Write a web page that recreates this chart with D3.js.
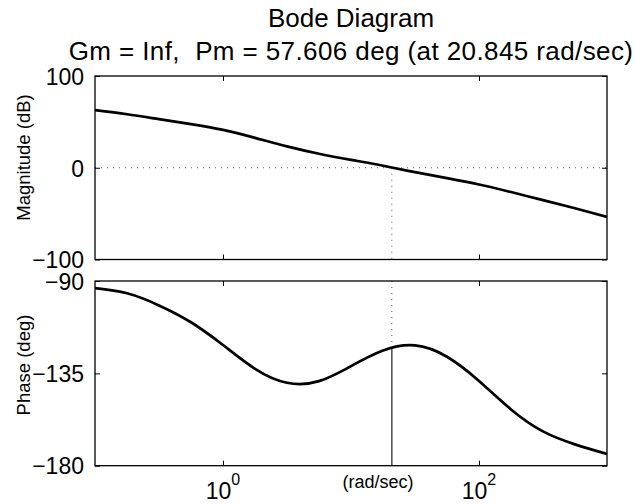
<!DOCTYPE html>
<html>
<head>
<meta charset="utf-8">
<script src="https://cdn.jsdelivr.net/npm/d3@7"></script>
<style>
  html, body { margin: 0; padding: 0; background: #fff; }
  svg { display: block; }
  text { font-family: "Liberation Sans", Arial, Helvetica, sans-serif; fill: #000; white-space: pre; }
</style>
</head>
<body>
<svg id="chart" width="635" height="504"></svg>
<script>
// ---- data ----
const titleLine1 = "Bode Diagram";
const titleLine2 = "Gm = Inf,  Pm = 57.606 deg (at 20.845 rad/sec)";
const xLabel = "(rad/sec)";
const magLabel = "Magnitude (dB)";
const phaseLabel = "Phase (deg)";

const freqDomain = [0.1, 1000];
const freqTicks = [1, 100];
const freqTickExp = ["0", "2"];

const magDomain = [-100, 100];
const magTicks = [-100, 0, 100];
const phaseDomain = [-180, -90];
const phaseTicks = [-180, -135, -90];

// frequencies (rad/sec) at which the curves were read, quarter-decade steps
const freqs = [0.1, 0.178, 0.316, 0.562, 1, 1.78, 3.16, 5.62, 10, 17.8, 31.6, 56.2, 100, 178, 316, 562, 1000];
const magDb = [62.8, 58.3, 53.0, 47.6, 41.3, 32.6, 23.3, 15.3, 8.6, 2.2, -4.8, -11.3, -18.3, -26.5, -35.3, -44.2, -53.6];
const phaseDeg = [-93.5, -96.0, -101.9, -110.1, -121.2, -132.8, -139.6, -138.8, -131.5, -123.9, -121.4, -126.9, -138.7, -152.6, -163.3, -169.6, -174.3];

const crossoverFreq = 20.845;
const crossoverPhase = -122.394;

// ---- layout ----
const svg = d3.select("#chart");
const left = 95, right = 607;
const magTop = 76, magBottom = 259.5;
const phTop = 281, phBottom = 465.7;
const tickLen = 5;
const tickFont = 23;

const x = d3.scaleLog().domain(freqDomain).range([left, right]);
const yMag = d3.scaleLinear().domain(magDomain).range([magBottom, magTop]);
const yPh = d3.scaleLinear().domain(phaseDomain).range([phBottom, phTop]);

function fmt(v) { return v < 0 ? "\u2212" + Math.abs(v) : String(v); }

function drawPanel(y, ticks, top, bottom, vals, id) {
  const g = svg.append("g");
  g.append("clipPath").attr("id", id).append("rect")
    .attr("x", left).attr("y", top).attr("width", right - left).attr("height", bottom - top);

  const line = d3.line().x(d => x(d[0])).y(d => y(d[1])).curve(d3.curveNatural);
  g.append("path").datum(freqs.map((f, i) => [f, vals[i]]))
    .attr("d", line).attr("fill", "none").attr("stroke", "#000")
    .attr("stroke-width", 2.7).attr("stroke-linejoin", "round").attr("clip-path", `url(#${id})`);

  g.append("rect").attr("x", left).attr("y", top).attr("width", right - left).attr("height", bottom - top)
    .attr("fill", "none").attr("stroke", "#000").attr("stroke-width", 1.3);

  const yAxL = d3.axisLeft(y).tickValues(ticks).tickSizeInner(-tickLen).tickSizeOuter(0).tickFormat(fmt).tickPadding(11);
  const gl = g.append("g").attr("transform", `translate(${left},0)`).call(yAxL);
  gl.select(".domain").remove();
  gl.selectAll(".tick line").attr("stroke", "#000").attr("stroke-width", 1);
  gl.selectAll(".tick text").attr("font-size", tickFont).attr("font-family", "Liberation Sans, Arial, sans-serif").attr("dy", "0.36em");

  const yAxR = d3.axisRight(y).tickValues(ticks).tickSizeInner(-tickLen).tickSizeOuter(0).tickFormat("");
  const gr = g.append("g").attr("transform", `translate(${right},0)`).call(yAxR);
  gr.select(".domain").remove();
  gr.selectAll(".tick line").attr("stroke", "#000");

  const xAxT = d3.axisTop(x).tickValues(freqTicks).tickSizeInner(-tickLen).tickSizeOuter(0).tickFormat("");
  const gt = g.append("g").attr("transform", `translate(0,${top})`).call(xAxT);
  gt.select(".domain").remove();
  gt.selectAll(".tick line").attr("stroke", "#000");
  const xAxB = d3.axisBottom(x).tickValues(freqTicks).tickSizeInner(-tickLen).tickSizeOuter(0).tickFormat("");
  const gb = g.append("g").attr("transform", `translate(0,${bottom})`).call(xAxB);
  gb.select(".domain").remove();
  gb.selectAll(".tick line").attr("stroke", "#000");
  return g;
}

const dotStyle = sel => sel.attr("stroke", "#555").attr("stroke-width", 1).attr("stroke-dasharray", "1,5");
svg.append("line").attr("x1", left).attr("x2", right).attr("y1", yMag(0)).attr("y2", yMag(0)).call(dotStyle);
svg.append("line").attr("x1", x(crossoverFreq)).attr("x2", x(crossoverFreq))
  .attr("y1", yMag(0)).attr("y2", magBottom).call(dotStyle);

svg.append("line").attr("x1", x(crossoverFreq)).attr("x2", x(crossoverFreq))
  .attr("y1", phTop).attr("y2", yPh(crossoverPhase)).call(dotStyle);
svg.append("line").attr("x1", x(crossoverFreq)).attr("x2", x(crossoverFreq))
  .attr("y1", yPh(crossoverPhase)).attr("y2", phBottom)
  .attr("stroke", "#555").attr("stroke-width", 1.6);

drawPanel(yMag, magTicks, magTop, magBottom, magDb, "clipMag");
drawPanel(yPh, phaseTicks, phTop, phBottom, phaseDeg, "clipPh");

freqTicks.forEach((f, i) => {
  const t = svg.append("text").attr("x", x(f)).attr("y", 499)
    .attr("text-anchor", "middle").attr("font-size", tickFont);
  t.append("tspan").text("10");
  t.append("tspan").attr("font-size", 16).attr("dy", -14).text(freqTickExp[i]);
});

const cx = (left + right) / 2;
svg.append("text").attr("x", cx).attr("y", 27).attr("text-anchor", "middle").attr("font-size", 26).text(titleLine1);
svg.append("text").attr("x", cx).attr("y", 60).attr("text-anchor", "middle").attr("font-size", 26)
  .attr("letter-spacing", 0.4).text(titleLine2);

svg.append("text").attr("x", 378).attr("y", 488).attr("text-anchor", "middle").attr("font-size", 18).text(xLabel);

svg.append("text").attr("transform", "translate(30,157.5) rotate(-90)")
  .attr("text-anchor", "middle").attr("font-size", 18.5).text(magLabel);
svg.append("text").attr("transform", "translate(30,365) rotate(-90)")
  .attr("text-anchor", "middle").attr("font-size", 18.5).text(phaseLabel);
</script>
</body>
</html>
